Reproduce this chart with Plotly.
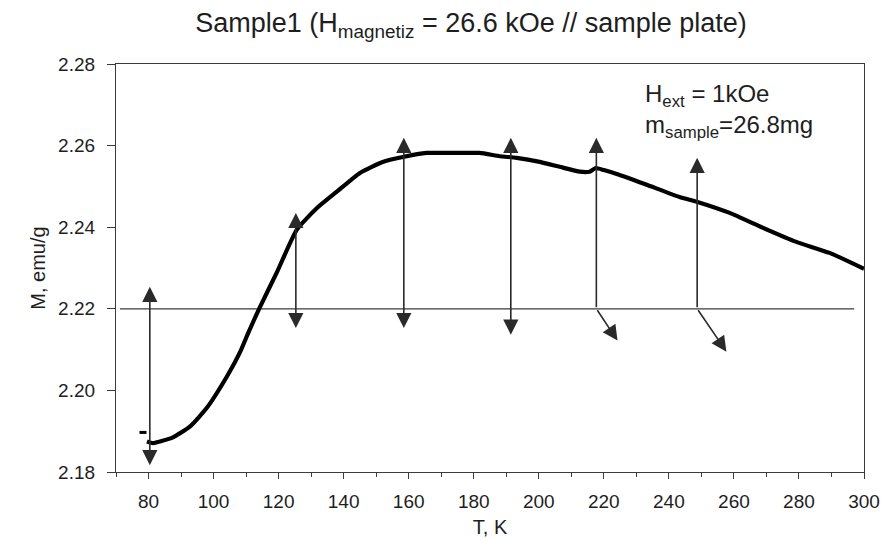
import plotly.graph_objects as go

# Magnetization curve
T_vals = [79.5, 81.4, 84, 87.5, 92.7, 98, 104.1, 108.1, 110.5, 114.0, 119.5, 125.6,
          131.8, 137.9, 145, 152, 158.2, 165.5, 172.6, 181.8, 188, 193.2, 200.3,
          206.4, 212.6, 215.6, 217.5, 220, 224.9, 233.2, 243.3, 248.8, 258.7,
          268.8, 279.2, 289.4, 300]
M_vals = [2.1875, 2.1871, 2.1876, 2.1885, 2.1911, 2.1958, 2.2034, 2.2093, 2.2138,
          2.2200, 2.2290, 2.2394, 2.2447, 2.2487, 2.2533, 2.2560, 2.2572, 2.2582,
          2.2582, 2.2582, 2.2574, 2.2570, 2.2560, 2.2548, 2.2536, 2.2536, 2.2545,
          2.2540, 2.2528, 2.2504, 2.2474, 2.2462, 2.2435, 2.2399, 2.2364, 2.2337,
          2.2298]

# stray points near the start
stray_T = [78.3]
stray_M = [2.1897]

# reference level line
ref_level = 2.22
ref_T = [71.2, 297.0]

# double-headed vertical arrows
dbl_T = [80.4, 125.3, 158.5, 191.4]
dbl_top = [2.2254, 2.2435, 2.2619, 2.2619]
dbl_bottom = [2.1813, 2.2149, 2.2149, 2.2133]

# bent arrows: vertical from ref level up, then diagonal down
bent_T = [217.7, 248.7]
bent_top = [2.2619, 2.2570]
bent_tip_T = [224.2, 257.7]
bent_tip_M = [2.2122, 2.2095]

title_text = "Sample1 (H<sub>magnetiz</sub> = 26.6 kOe // sample plate)"
note_text = "H<sub>ext</sub> = 1kOe<br>m<sub>sample</sub>=26.8mg"
x_ticks = [80, 100, 120, 140, 160, 180, 200, 220, 240, 260, 280, 300]
y_ticks = [2.18, 2.20, 2.22, 2.24, 2.26, 2.28]

FONT = "Liberation Sans, Arial, sans-serif"
AX = "#3a3a3a"
TXT = "#1e1e1e"

fig = go.Figure()
fig.add_trace(go.Scatter(x=ref_T, y=[ref_level, ref_level], mode="lines",
                         line=dict(color="#3a3a3a", width=1.3), hoverinfo="skip"))
fig.add_trace(go.Scatter(x=T_vals, y=M_vals, mode="lines",
                         line=dict(color="black", width=4.2, shape="spline", smoothing=0.5)))
fig.add_trace(go.Scatter(x=stray_T, y=stray_M, mode="markers",
                         marker=dict(color="black", size=5, symbol="line-ew-open",
                                     line=dict(width=3, color="black"))))

annos = []
arrow_style = dict(showarrow=True, arrowcolor="#2a2a2a", arrowwidth=1.6,
                   arrowhead=2, arrowsize=1.9, axref="x", ayref="y",
                   xref="x", yref="y", text="", standoff=0, startstandoff=0)
for t, top, bot in zip(dbl_T, dbl_top, dbl_bottom):
    annos.append(dict(x=t, y=top, ax=t, ay=bot, arrowside="end+start",
                      startarrowhead=2, startarrowsize=1.9, **arrow_style))
for t, top, tt, tm in zip(bent_T, bent_top, bent_tip_T, bent_tip_M):
    annos.append(dict(x=t, y=top, ax=t, ay=ref_level, **arrow_style))
    annos.append(dict(x=tt, y=tm, ax=t, ay=ref_level, **arrow_style))

annos.append(dict(x=231.9, y=2.2765, xref="x", yref="y", xanchor="left", yanchor="top",
                  align="left", showarrow=False, text=note_text,
                  font=dict(family=FONT, size=24, color=TXT)))

fig.update_layout(
    width=883, height=538,
    margin=dict(l=116, r=19, t=64, b=66, autoexpand=False),
    paper_bgcolor="white", plot_bgcolor="white",
    showlegend=False,
    annotations=annos,
    font=dict(family=FONT, size=19, color=TXT),
    title=dict(text=title_text, x=0.4746, xref="paper", y=1 - 23 / 538, yref="container",
               xanchor="center", yanchor="middle",
               font=dict(family=FONT, size=27, color=TXT)),
)

fig.update_xaxes(range=[70, 300], tickvals=x_ticks, ticks="outside", ticklen=6,
                 tickwidth=1.2, tickcolor=AX, showline=True, linecolor=AX, linewidth=1.3,
                 mirror=True, showgrid=False, zeroline=False, automargin=False,
                 ticklabelstandoff=6,
                 minor=dict(dtick=10, tick0=0, ticks="outside", ticklen=4, tickcolor=AX),
                 title=dict(text="T, K", font=dict(family=FONT, size=20, color=TXT), standoff=11),
                 tickfont=dict(family=FONT, size=19, color=TXT))
fig.update_yaxes(range=[2.18, 2.28], tickvals=y_ticks, tickformat=".2f", ticks="outside",
                 ticklen=8, tickwidth=1.2, tickcolor=AX, showline=True, linecolor=AX,
                 linewidth=1.3, mirror=True, showgrid=False, zeroline=False, automargin=False,
                 ticklabelstandoff=8,
                 title=dict(text="M, emu/g", font=dict(family=FONT, size=20, color=TXT), standoff=7),
                 tickfont=dict(family=FONT, size=19, color=TXT))

fig.write_html("out.html", config={"displayModeBar": False},
               post_script="document.body.style.margin='0';"
                           "document.body.style.overflow='hidden';")
